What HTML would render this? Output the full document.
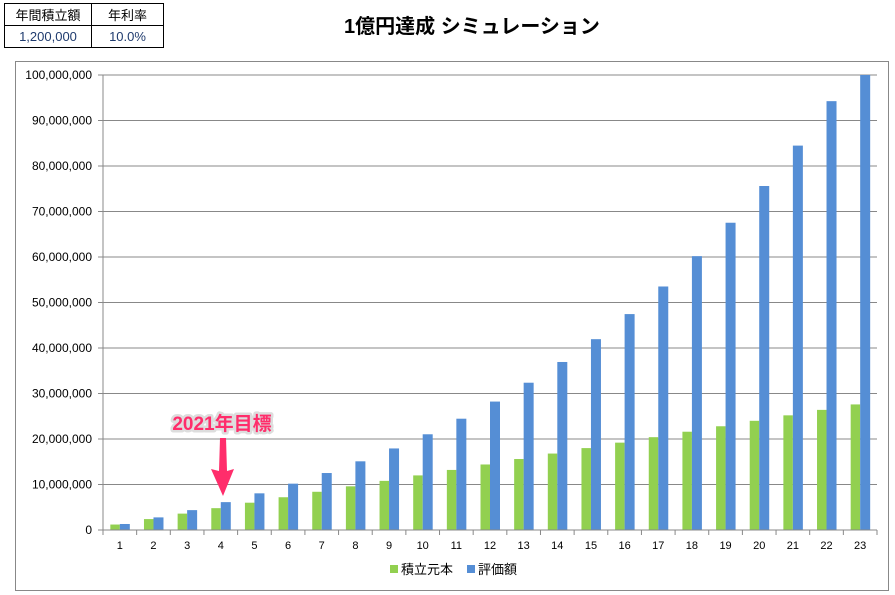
<!DOCTYPE html>
<html><head><meta charset="utf-8"><style>
body{margin:0;background:#fff;width:895px;height:595px;overflow:hidden;font-family:"Liberation Sans","Noto Sans CJK JP",sans-serif}
table{position:absolute;left:4px;top:3px;border-collapse:collapse;font-size:13px}
td{border:1px solid #000;text-align:center;height:21px;padding:0}
</style></head><body>
<table><tr><td style="width:86px">年間積立額</td><td style="width:71px">年利率</td></tr>
<tr><td style="color:#1f3b6e">1,200,000</td><td style="color:#1f3b6e">10.0%</td></tr></table>
<svg id="s" width="895" height="595" style="position:absolute;left:0;top:0" font-family="Liberation Sans, Noto Sans CJK JP, sans-serif"></svg>
<script>
var s='';
s+='<text x="472" y="33" font-size="20" font-weight="bold" text-anchor="middle">1億円達成 シミュレーション</text>';
s+='<rect x="15.5" y="61.5" width="873" height="529" fill="none" stroke="#888"/>';
var x0=103,x1=877,yb=530,yt=75,k=(yb-yt)/100;
for(var i=0;i<=10;i++){var y=yb-i*10*k;
 s+='<line x1="'+(x0-5)+'" x2="'+x1+'" y1="'+y+'" y2="'+y+'" stroke="#888"/>';
 var v=(i*10000000).toLocaleString('en-US');
 s+='<text x="92" y="'+(y+4)+'" font-size="12" text-anchor="end">'+v+'</text>';}
s+='<line x1="'+x0+'" x2="'+x0+'" y1="'+yt+'" y2="'+(yb+5)+'" stroke="#888"/>';
var w=(x1-x0)/23;
for(var n=1;n<=23;n++){var c=x0+w*(n-0.5);
 var g=1.2*n, b=Math.min(100,13.2*(Math.pow(1.1,n)-1));
 s+='<rect x="'+(c-9.5)+'" y="'+(yb-g*k)+'" width="9.5" height="'+(g*k)+'" fill="#92D050"/>';
 s+='<rect x="'+c+'" y="'+(yb-b*k)+'" width="10" height="'+(b*k)+'" fill="#558ED5"/>';
 s+='<text x="'+c+'" y="549" font-size="11" text-anchor="middle">'+n+'</text>';
 s+='<line x1="'+(x0+w*n)+'" x2="'+(x0+w*n)+'" y1="'+yb+'" y2="'+(yb+5)+'" stroke="#888"/>';}
s+='<line x1="'+x0+'" x2="'+x1+'" y1="'+yb+'" y2="'+yb+'" stroke="#888"/>';
s+='<rect x="390" y="565" width="8" height="8" fill="#92D050"/><text x="401" y="574" font-size="13">積立元本</text>';
s+='<rect x="467" y="565" width="8" height="8" fill="#558ED5"/><text x="478" y="574" font-size="13">評価額</text>';
s+='<defs><filter id="gl"><feMorphology operator="dilate" radius="2" in="SourceAlpha"/><feGaussianBlur stdDeviation="1.5"/><feFlood flood-color="#fff"/><feComposite operator="in" in2="SourceAlpha"/></filter></defs>';
s+='<text x="222" y="430" font-size="19" font-weight="bold" text-anchor="middle" fill="#fff" stroke="#ddd" stroke-width="5" stroke-linejoin="round">2021年目標</text>';
s+='<text x="222" y="430" font-size="19" font-weight="bold" text-anchor="middle" fill="#FF2D6B">2021年目標</text>';
s+='<path d="M220 438 L226 438 L227 471 L234 469 L223 496 L211 469 L219 471 Z" fill="#FF2D6B"/>';
document.getElementById('s').innerHTML=s;
</script>
</body></html>
